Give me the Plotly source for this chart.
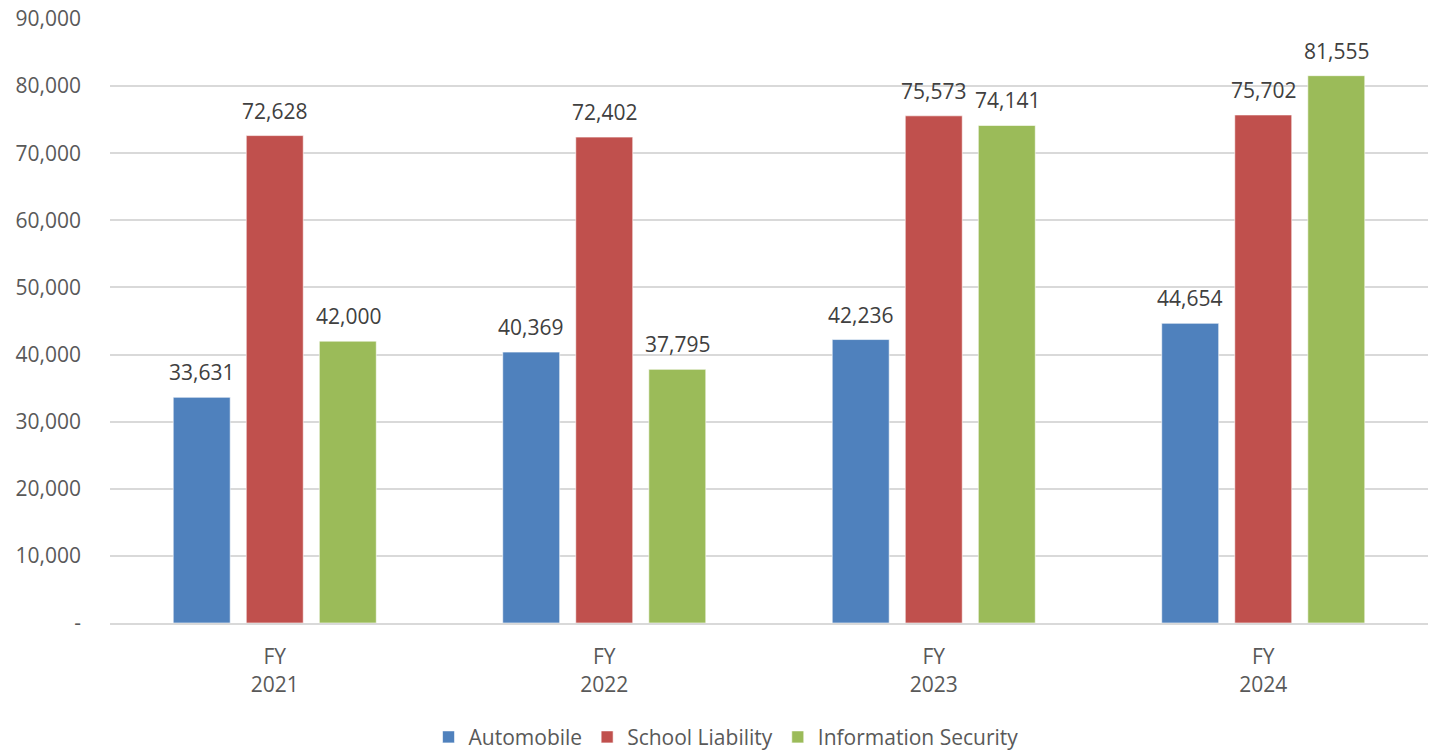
import plotly.graph_objects as go

categories = ["FY<br>2021", "FY<br>2022", "FY<br>2023", "FY<br>2024"]
automobile = [33631, 40369, 42236, 44654]
school_liability = [72628, 72402, 75573, 75702]
information_security = [42000, 37795, 74141, 81555]
tick_vals = [0, 10000, 20000, 30000, 40000, 50000, 60000, 70000, 80000, 90000]
tick_text = ["-", "10,000", "20,000", "30,000", "40,000", "50,000", "60,000", "70,000", "80,000", "90,000"]

series = [
    ("Automobile", automobile, "#4F81BD"),
    ("School Liability", school_liability, "#C0504D"),
    ("Information Security", information_security, "#9BBB59"),
]

FONT = "Open Sans"
FS = 21
fig = go.Figure()
for j, (name, vals, color) in enumerate(series):
    fig.add_trace(go.Bar(
        name=name, x=categories, y=vals,
        marker=dict(color=color, line=dict(color="rgba(255,255,255,0.6)", width=1)),
    ))
    for cat, v in zip(categories, vals):
        fig.add_annotation(
            x=cat, y=v, xref="x", yref="y", text=f"{v:,}", showarrow=False,
            xshift=(j - 1) * 73.3, yshift=25, yanchor="middle",
            font=dict(family=FONT, size=FS, color="#404040"),
        )

fig.update_layout(
    width=1435, height=750,
    margin=dict(l=110, r=7, t=19, b=127, autoexpand=False),
    paper_bgcolor="white", plot_bgcolor="white",
    barmode="group", bargap=0.335, bargroupgap=0.22,
    font=dict(family=FONT, size=FS, color="#595959"),
    showlegend=True,
    legend=dict(orientation="h", x=0.4674, xanchor="center", yref="container",
                y=0.017, yanchor="middle",
                font=dict(family=FONT, size=FS, color="#595959"), itemwidth=30,
                traceorder="normal"),
    xaxis=dict(showgrid=False, showline=True, linecolor="#D9D9D9", linewidth=2,
               ticks="", ticklabelstandoff=14, automargin=False,
               tickfont=dict(size=FS, color="#595959")),
    yaxis=dict(range=[0, 90000], tickvals=tick_vals, ticktext=tick_text,
               showgrid=True, gridcolor="#D9D9D9", gridwidth=1.5, zeroline=False,
               ticks="", ticklabelstandoff=28, automargin=False,
               tickfont=dict(size=FS, color="#595959")),
)

fig.write_html("out.html")
